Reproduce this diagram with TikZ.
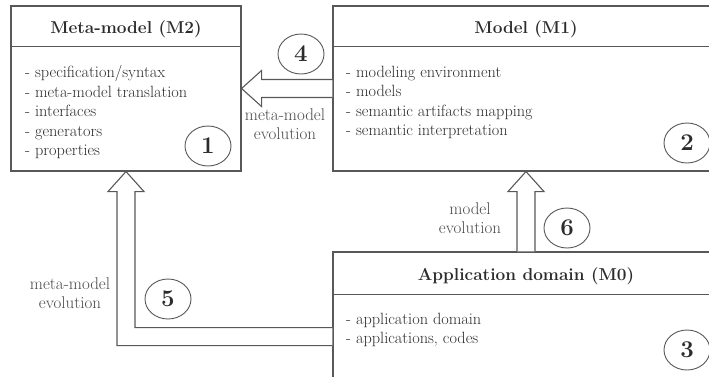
\documentclass[tikz,border=0pt]{standalone}
\usepackage{fontspec}
\usetikzlibrary{calc,shapes.geometric}

\definecolor{linegray}{HTML}{585858}
\definecolor{textgray}{HTML}{2C2C2C}
\definecolor{labelgray}{HTML}{4A4A4A}

\tikzset{
  layerbox/.style={draw=linegray, line width=1.1pt, rectangle, inner sep=0pt},
  titletext/.style={font=\fontsize{17.2}{20}\selectfont\bfseries, text=textgray, anchor=base},
  listtext/.style={font=\fontsize{16.3}{19.5}\selectfont, text=textgray, align=left, anchor=north west, inner sep=0pt},
  numcircle/.style={draw=linegray, ellipse, line width=0.9pt, minimum width=46pt, minimum height=40pt, inner sep=0pt, font=\fontsize{24}{24}\selectfont\bfseries, text=textgray},
  evolabel/.style={font=\fontsize{17}{19}\selectfont, text=labelgray, align=center, inner sep=0pt},
  blockarrow/.style={draw=linegray, line width=1.1pt, fill=white, line join=miter},
}

\begin{document}
\begin{tikzpicture}[x=1pt, y=-1pt]
    % --- 画布 ---
    \useasboundingbox (0,0) rectangle (709,376);
    \clip (0,0) rectangle (709,376);

    % --- 箭头参数 ---
    \def\sw{9}    % 箭杆半宽
    \def\hw{18}   % 箭头半宽
    \def\hl{20}   % 箭头长度

    % --- 三个层次的方框 ---
    \node[layerbox, minimum width=230pt, minimum height=165pt] (meta) at (126,88.5) {};
    \node[layerbox, minimum width=386pt, minimum height=165pt] (model) at (526,88.5) {};
    \node[layerbox, minimum width=386pt, minimum height=150pt] (app) at (526,327) {};

    % 标题分隔线
    \draw[linegray, line width=1.1pt] ($(meta.north west)+(0,41)$) -- ($(meta.north east)+(0,41)$);
    \draw[linegray, line width=1.1pt] ($(model.north west)+(0,41)$) -- ($(model.north east)+(0,41)$);
    \draw[linegray, line width=1.1pt] ($(app.north west)+(0,43)$) -- ($(app.north east)+(0,43)$);

    % --- 标题 ---
    \node[titletext] (metatitle) at (126,33.5) {Meta-model (M2)};
    \node[titletext] (modeltitle) at (526,33.5) {Model (M1)};
    \node[titletext] (apptitle) at (526,280) {Application domain (M0)};

    % --- 列表 ---
    \node[listtext] (metalist) at (25,65.5) {- specification/syntax\\- meta-model translation\\- interfaces\\- generators\\- properties};
    \node[listtext] (modellist) at (346,65.5) {- modeling environment\\- models\\- semantic artifacts mapping\\- semantic interpretation};
    \node[listtext] (applist) at (346,312.5) {- application domain\\- applications, codes};

    % --- 空心箭头 ---
    % 4: Model -> Meta-model
    \draw[blockarrow] ($(model.west)+(0,-\sw)$) -- ($(meta.east)+(\hl,-\sw)$) -- ($(meta.east)+(\hl,-\hw)$)
        -- (meta.east) -- ($(meta.east)+(\hl,\hw)$) -- ($(meta.east)+(\hl,\sw)$) -- ($(model.west)+(0,\sw)$);
    % 6: Application domain -> Model
    \draw[blockarrow] ($(app.north)+(-\sw,0)$) -- ($(model.south)+(-\sw,\hl)$) -- ($(model.south)+(-\hw,\hl)$)
        -- (model.south) -- ($(model.south)+(\hw,\hl)$) -- ($(model.south)+(\sw,\hl)$) -- ($(app.north)+(\sw,0)$);
    % 5: Application domain -> Meta-model (折线)
    \coordinate (bend5) at ($(meta.south)+(0,165)$);
    \draw[blockarrow] ($(app.west |- bend5)+(0,-\sw)$) -- ($(bend5)+(\sw,-\sw)$) -- ($(meta.south)+(\sw,\hl)$)
        -- ($(meta.south)+(\hw,\hl)$) -- (meta.south) -- ($(meta.south)+(-\hw,\hl)$) -- ($(meta.south)+(-\sw,\hl)$)
        -- ($(bend5)+(-\sw,\sw)$) -- ($(app.west |- bend5)+(0,\sw)$);

    % --- 箭头标签 ---
    \node[evolabel] (evo4) at (285,124) {meta-model\\evolution};
    \node[evolabel] (evo5) at (70,293) {meta-model\\evolution};
    \node[evolabel] (evo6) at (470,218) {model\\evolution};

    % --- 编号 ---
    \node[numcircle] (n1) at (208,146) {1};
    \node[numcircle] (n2) at (687,143) {2};
    \node[numcircle] (n3) at (687,350) {3};
    \node[numcircle] (n4) at (301,54) {4};
    \node[numcircle] (n5) at (168,299) {5};
    \node[numcircle] (n6) at (567,228) {6};

\end{tikzpicture}
\end{document}
